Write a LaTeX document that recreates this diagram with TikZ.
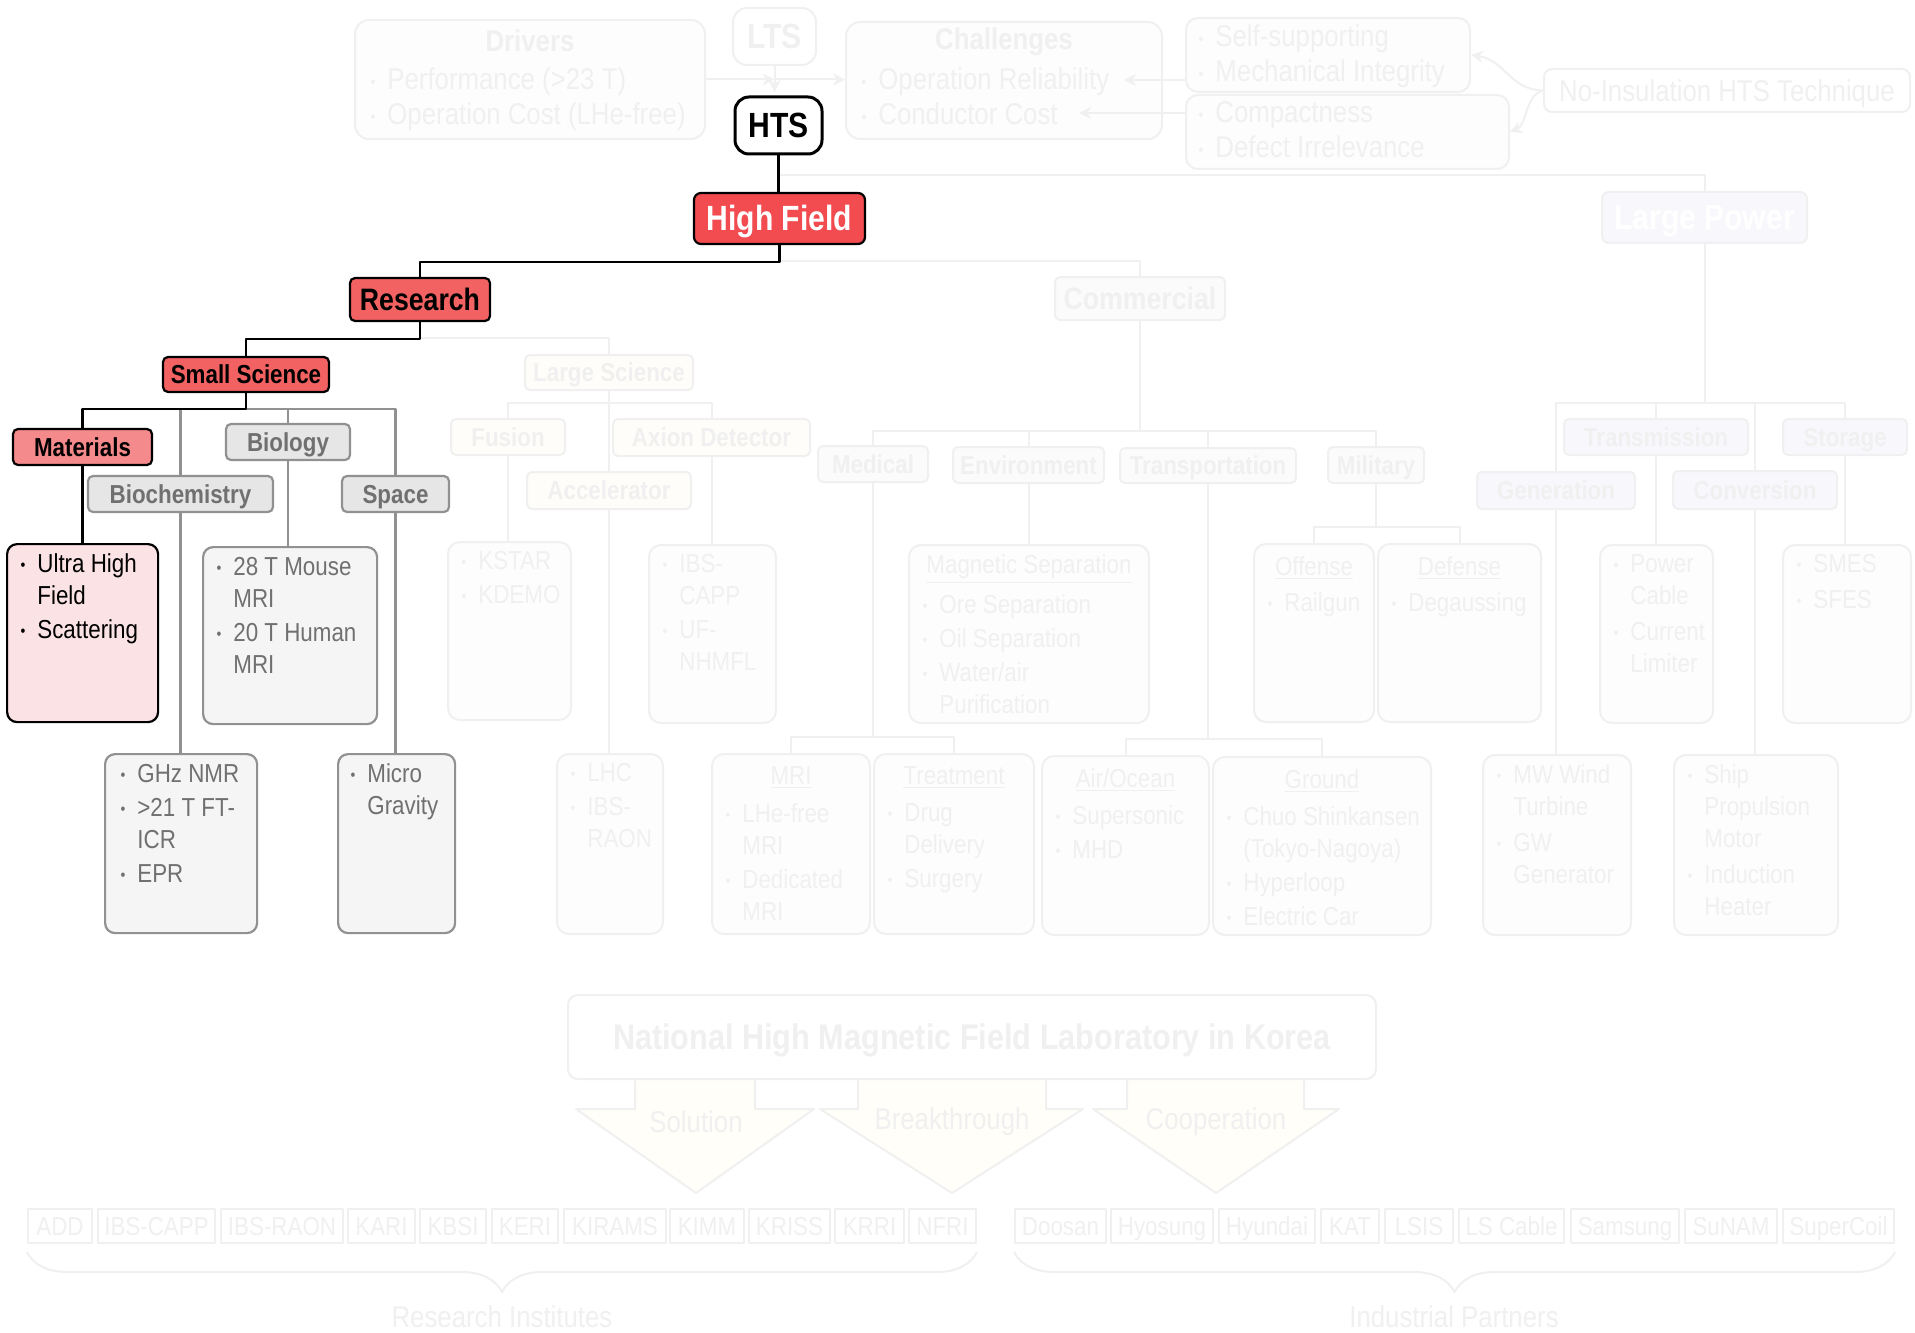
\documentclass[tikz,border=0pt]{standalone}
\usepackage{fontspec}
\setmainfont{Liberation Sans}[FakeStretch=0.86]
\usetikzlibrary{arrows.meta,decorations.pathreplacing}
\definecolor{hfred}{RGB}{242,75,80}
\definecolor{resred}{RGB}{242,98,98}
\definecolor{matred}{RGB}{245,138,140}
\definecolor{matfill}{RGB}{251,226,228}
\definecolor{glinecol}{RGB}{145,145,145}
\definecolor{gtxt}{RGB}{112,112,112}
\definecolor{ghead}{RGB}{230,230,230}
\definecolor{gfill}{RGB}{245,245,245}
\definecolor{fade}{RGB}{240,240,240}
\definecolor{fadefill}{RGB}{253,253,253}
\definecolor{lsfill}{RGB}{255,253,249}
\definecolor{cmfill}{RGB}{250,251,250}
\definecolor{lpfill}{RGB}{248,248,252}
\definecolor{arrfill}{RGB}{255,254,248}
\newcommand{\itm}{\llap{\raisebox{1pt}{\fontsize{8}{8}\selectfont\textbullet}\hspace{6pt}}}

\begin{document}
\begin{tikzpicture}[x=0.5pt, y=-0.5pt, line join=round,
	sz/.style 2 args={minimum width=#1*0.5pt, minimum height=#2*0.5pt},
	txt/.style={font=\fontsize{13}{16}\selectfont},
	bigtxt/.style={font=\fontsize{15}{17.5}\selectfont},
	hfont/.style={text height=12.5pt, font=\bfseries\fontsize{17.5}{20}\selectfont},
	mfont/.style={text height=11.1pt, font=\bfseries\fontsize{15.5}{18}\selectfont},
	head/.style={draw, rounded corners=2.5pt, line width=1.1pt, inner sep=0pt, text height=9.3pt, text depth=0pt, font=\bfseries\fontsize{13}{16}\selectfont},
	grayhead/.style={head, draw=glinecol, fill=ghead, text=gtxt},
	fadehead/.style={head, draw=fade, line width=1pt, text=fade},
	ftitle/.style={text=fade, inner sep=0pt, font=\bfseries\fontsize{15}{17.5}\selectfont},
	lbox/.style={draw, rounded corners=5pt, line width=1.1pt, anchor=north west},
	graybox/.style={lbox, draw=glinecol, fill=gfill},
	fadebox/.style={lbox, draw=fade, fill=fadefill, rounded corners=6pt, line width=1pt},
	ltext/.style={txt, anchor=north west, align=left, inner sep=0pt},
	link/.style={line width=1.3pt},
	graylink/.style={line width=1.1pt, draw=glinecol},
	fadelink/.style={line width=1pt, draw=fade},
	farrow/.style={fadelink, -{Stealth[length=6pt,width=6pt]}}]
	\path[use as bounding box, fill=white] (0,0) rectangle (1915,1332);

	% top row
	\node[fadebox, rounded corners=7pt, sz={350}{119}] (drivers) at (354,19) {};
	\node[ftitle] (drivers-h) at ([shift={(0,22)}]drivers.north) {Drivers};
	\node[ltext, bigtxt, text=fade] (drivers-t) at ([shift={(33,48.5)}]drivers.north west) {\itm Performance (>23 T)\\\itm Operation Cost (LHe-free)};
	\node[fadehead, hfont, rounded corners=7pt, sz={83}{57}] (lts) at (774.5,36.5) {LTS};
	\node[fadebox, rounded corners=7pt, sz={316}{117}] (chall) at (845,21) {};
	\node[ftitle] (chall-h) at ([shift={(0,21)}]chall.north) {Challenges};
	\node[ltext, bigtxt, text=fade] (chall-t) at ([shift={(33,46.5)}]chall.north west) {\itm Operation Reliability\\\itm Conductor Cost};
	\node[fadebox, sz={284}{74}] (selfsup) at (1185,17) {};
	\node[ltext, bigtxt, text=fade] (selfsup-t) at ([shift={(30,7)}]selfsup.north west) {\itm Self-supporting\\\itm Mechanical Integrity};
	\node[fadebox, sz={323}{74}] (compact) at (1185,94) {};
	\node[ltext, bigtxt, text=fade] (compact-t) at ([shift={(30,7)}]compact.north west) {\itm Compactness\\\itm Defect Irrelevance};
	\node[fadehead, rounded corners=4pt, sz={366}{43}, text height=10.7pt, font=\fontsize{15}{17.5}\selectfont] (noins) at (1727,90.5) {No-Insulation HTS Technique};
	\coordinate (rel) at (1124,80);
	\coordinate (cost) at (1079,113);
	\draw[farrow] (drivers.east) -- (lts.south |- drivers.east);
	\draw[farrow] (lts.south |- drivers.east) -- (chall.west |- drivers.east);
	\draw[farrow] (lts.south) -- ++(0,26);
	\draw[farrow] (selfsup.west |- rel) -- (rel);
	\draw[farrow] (compact.west |- cost) -- (cost);
	\draw[farrow] (noins.west) .. controls (1510,90) and (1505,60) .. (selfsup.east);
	\draw[farrow] (noins.west) .. controls (1525,95) and (1527,125) .. (compact.east);

	% tree
	\node[draw, line width=1.5pt, rounded corners=7pt, fill=white, inner sep=0pt, sz={87}{57}, text depth=0pt, hfont] (hts) at (778.5,125.5) {HTS};
	\node[head, hfont, draw=black, fill=hfred, text=white, rounded corners=3.5pt, sz={171}{51}] (high) at (779.5,218.5) {High Field};
	\node[fadehead, hfont, fill=lpfill, text=white, rounded corners=3.5pt, sz={205}{51}] (lpower) at (1704.5,217.5) {Large Power};
	\node[fadehead, mfont, fill=cmfill, sz={170}{43}] (commercial) at (1140,298.5) {Commercial};
	\node[head, mfont, draw=black, fill=resred, sz={140}{43}] (research) at (420,299.5) {Research};
	\node[head, draw=black, fill=resred, sz={166}{35}] (smallsci) at (246,374.5) {Small Science};
	\node[head, draw=black, fill=matred, sz={139}{36}] (materials) at (82.5,447) {Materials};
	\node[grayhead, sz={185}{36}] (biochem) at (180.5,494) {Biochemistry};
	\node[grayhead, sz={124}{36}] (biology) at (288,442) {Biology};
	\node[grayhead, sz={107}{36}] (space) at (395.5,494) {Space};
	\foreach \n/\x/\y/\w/\h/\c/\t in {lsci/609/372.5/168/35/lsfill/Large Science,
		fusion/508/437/114/36/lsfill/Fusion, axion/711.5/437.5/197/37/lsfill/Axion Detector,
		accel/609/490.5/164/37/lsfill/Accelerator, medical/873/464/110/36/cmfill/Medical,
		environ/1028.5/465/151/36/cmfill/Environment, transport/1208/465.5/176/35/cmfill/Transportation,
		military/1376/465/96/36/cmfill/Military, transm/1656/437/184/36/lpfill/Transmission,
		storage/1845/437/124/36/lpfill/Storage, generation/1556/490.5/158/37/lpfill/Generation,
		conversion/1755/490/164/38/lpfill/Conversion}
		\node[fadehead, fill=\c, sz={\w}{\h}] (\n) at (\x,\y) {\t};

	% bullet boxes
	\node[lbox, draw=black, fill=matfill, sz={151}{178}] (ultra) at (6,543) {};
	\node[ltext] (ultra-t) at ([shift={(31,10.5)}]ultra.north west) {\itm Ultra High\\Field\\[1pt]\itm Scattering};
	\node[graybox, sz={174}{177}] (mouse) at (202,546) {};
	\node[ltext, text=gtxt] (mouse-t) at ([shift={(31,10.5)}]mouse.north west) {\itm 28 T Mouse\\MRI\\[1pt]\itm 20 T Human\\MRI};
	\node[graybox, sz={152}{179}] (ghz) at (104,753) {};
	\node[ltext, text=gtxt] (ghz-t) at ([shift={(33,10.5)}]ghz.north west) {\itm GHz NMR\\[1pt]\itm >21 T FT-\\ICR\\[1pt]\itm EPR};
	\node[graybox, sz={117}{179}] (micro) at (337,753) {};
	\node[ltext, text=gtxt] (micro-t) at ([shift={(30,10.5)}]micro.north west) {\itm Micro\\Gravity};
	\foreach \n/\x/\y/\w/\h/\dy/\t in {kstar/447/541/123/178/10/{\itm KSTAR\\[1pt]\itm KDEMO},
		capp/648/544/127/178/10/{\itm IBS-\\CAPP\\[1pt]\itm UF-\\NHMFL},
		lhc/556/753/106/180/10/{\itm LHC\\[1pt]\itm IBS-\\RAON},
		magsep/908/544/240/178/50/{\itm Ore Separation\\[1pt]\itm Oil Separation\\[1pt]\itm Water/air\\Purification},
		mri/711/753/158/180/50.5/{\itm LHe-free\\MRI\\[1pt]\itm Dedicated\\MRI},
		treat/873/753/160/180/50.5/{\itm Drug\\Delivery\\[1pt]\itm Surgery},
		airocean/1041/755/167/179/50.5/{\itm Supersonic\\[1pt]\itm MHD},
		ground/1212/756/218/178/50.5/{\itm Chuo Shinkansen\\(Tokyo-Nagoya)\\[1pt]\itm Hyperloop\\[1pt]\itm Electric Car},
		offense/1253/543/120/178/49/{\itm Railgun},
		defense/1377/543/163/178/49/{\itm Degaussing},
		power/1599/544/113/178/10/{\itm Power\\Cable\\[2pt]\itm Current\\Limiter},
		smes/1782/544/128/178/10/{\itm SMES\\[2pt]\itm SFES},
		mw/1482/754/148/180/10/{\itm MW Wind\\Turbine\\[2pt]\itm GW\\Generator},
		ship/1673/754/164/180/10/{\itm Ship\\Propulsion\\Motor\\[2pt]\itm Induction\\Heater}}{
		\node[fadebox, sz={\w}{\h}] (\n) at (\x,\y) {};
		\node[ltext, text=fade] (\n-t) at ([shift={(31,\dy)}]\n.north west) {\t};
	}
	\foreach \n/\t in {magsep/Magnetic Separation, mri/MRI, treat/Treatment, airocean/{Air/Ocean},
		ground/Ground, offense/Offense, defense/Defense}
		\node[txt, text=fade, inner sep=0pt] (\n-h) at ([shift={(0,25)}]\n.north) {\underline{\t}};

	% faded links
	\draw[fadelink] (hts.south) -- ++(0,20) -| (lpower.north);
	\draw[fadelink] (high.south) -- ++(0,16) -| (commercial.north);
	\draw[fadelink] (research.south) -- ++(0,16) -| (lsci.north);
	\foreach \c in {fusion,accel,axion} \draw[fadelink] (lsci.south) -- ++(0,12) -| (\c.north);
	\foreach \c in {medical,environ,transport,military} \draw[fadelink] (commercial.south) -- ++(0,110) -| (\c.north);
	\foreach \c in {mri,treat} \draw[fadelink] (medical.south) -- ++(0,254) -| (\c.north);
	\foreach \c in {airocean,ground} \draw[fadelink] (transport.south) -- ++(0,255) -| (\c.north);
	\foreach \c in {offense,defense} \draw[fadelink] (military.south) -- ++(0,43) -| (\c.north);
	\foreach \c in {generation,transm,conversion,storage} \draw[fadelink] (lpower.south) -- ++(0,159) -| (\c.north);
	\foreach \a/\b in {fusion/kstar, accel/lhc, axion/capp, environ/magsep, transm/power, storage/smes, generation/mw, conversion/ship}
		\draw[fadelink] (\a.south) -- (\a.south |- \b.north);

	% highlighted links
	\draw[link] (hts.south) -- (hts.south |- high.north);
	\draw[link] (high.south) -- ++(0,17) -| (research.north);
	\draw[link] (research.south) -- ++(0,17) -| (smallsci.north);
	\coordinate (ssbar) at ([shift={(0,16)}]smallsci.south);
	\draw[graylink] (ssbar) -| (space.north);
	\draw[graylink] (ssbar -| biology.north) -- (biology.north);
	\draw[graylink] (biology.south) -- (biology.south |- mouse.north);
	\draw[graylink] (ssbar -| biochem.north) -- (biochem.north);
	\draw[graylink] (biochem.south) -- (biochem.south |- ghz.north);
	\draw[graylink] (space.south) -- (space.south |- micro.north);
	\draw[link] (smallsci.south) -- (ssbar) -| (materials.north);
	\draw[link] (materials.south) -- (materials.south |- ultra.north);

	% laboratory and partners
	\foreach \n/\sl/\sr/\hl/\hr/\tx/\t in {sol/635/755/576/814/696/Solution, brk/858/1046/820/1083/952/Breakthrough, coop/1127/1304/1093/1339/1216/Cooperation}{
		\draw[fadelink, fill=arrfill] (\sl,1079) -- (\sl,1109) -- (\hl,1109) -- (\tx,1193) -- (\hr,1109) -- (\sr,1109) -- (\sr,1079);
		\node[bigtxt, text=fade] (\n) at (\tx,1122) {\t};
	}
	\node[fadehead, fill=white, rounded corners=5pt, sz={808}{84}, text height=12.7pt, font=\bfseries\fontsize{17.8}{20}\selectfont] (nhmfl) at (972,1037) {National High Magnetic Field Laboratory in Korea};
	\foreach \t/\l/\r [count=\i] in {ADD/28/92, IBS-CAPP/98/215, IBS-RAON/221/343, KARI/348/415, KBSI/420/486,
		KERI/492/558, KIRAMS/564/666, KIMM/670/744, KRISS/749/830, KRRI/835/904, NFRI/909/976}
		\node[fadehead, txt, rounded corners=0pt, sz={(\r-\l)}{34}] (ri\i) at ({(\l+\r)/2},1226) {\t};
	\foreach \t/\l/\r [count=\i] in {Doosan/1015/1106, Hyosung/1111/1213, Hyundai/1219/1315, KAT/1321/1379, LSIS/1385/1453,
		LS Cable/1459/1564, Samsung/1571/1679, SuNAM/1685/1777, SuperCoil/1783/1894}
		\node[fadehead, txt, rounded corners=0pt, sz={(\r-\l)}{34}] (ip\i) at ({(\l+\r)/2},1226) {\t};
	\draw[fadelink, decorate, decoration={brace, mirror, amplitude=20pt}] (ri1.south west |- 0,1252) -- (ri11.south east |- 0,1252);
	\draw[fadelink, decorate, decoration={brace, mirror, amplitude=20pt}] (ip1.south west |- 0,1252) -- (ip9.south east |- 0,1252);
	\node[bigtxt, text=fade] (rinst) at (502,1317) {Research Institutes};
	\node[bigtxt, text=fade] (ipart) at (1454,1317) {Industrial Partners};
\end{tikzpicture}
\end{document}
